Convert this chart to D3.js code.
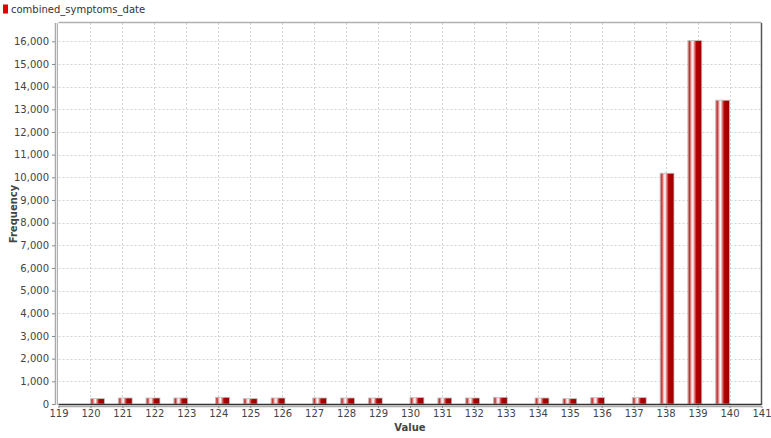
<!DOCTYPE html>
<html>
<head>
<meta charset="utf-8">
<script src="https://cdn.jsdelivr.net/npm/d3@7"></script>
<style>
  body { margin: 0; background: #fff; }
  text { font-family: "DejaVu Sans", sans-serif; }
</style>
</head>
<body>
<script>
// histogram data: integer value -> frequency
const values = [120, 121, 122, 123, 124, 125, 126, 127, 128, 129, 130,
                131, 132, 133, 134, 135, 136, 137, 138, 139, 140];
const counts = [235, 265, 265, 265, 295, 235, 265, 265, 265, 265, 280,
                265, 265, 295, 265, 235, 280, 280, 10180, 16030, 13400];
const binCount = 46;
const xTicks = d3.range(119, 142);
const yTicks = d3.range(0, 17000, 1000);
const seriesName = "combined_symptoms_date";

const width = 771, height = 438;
const plot = { left: 58.5, right: 761.5, top: 23, bottom: 405 };

const svg = d3.select("body")
    .append("svg")
    .attr("width", width)
    .attr("height", height);

// bar gradient (vertical stripes, like the java gradient painter)
const grad = svg.append("defs").append("linearGradient")
    .attr("id", "barGrad")
    .attr("x1", "0%").attr("x2", "100%").attr("y1", "0%").attr("y2", "0%");
[["0%", "#d48a8a"], ["12%", "#c43030"], ["26%", "#f2c4c4"], ["36%", "#ffffff"],
 ["48%", "#df7a7a"], ["62%", "#b40000"], ["100%", "#960000"]]
    .forEach(([o, c]) => grad.append("stop").attr("offset", o).attr("stop-color", c));

const x = d3.scaleLinear().domain([119, 141]).range([plot.left, plot.right]);
const y = d3.scaleLinear().domain([0, 16000]).range([404, 41.3]);

// grid
const grid = svg.append("g")
    .attr("stroke", "#d4d4d4")
    .attr("stroke-dasharray", "2,2")
    .attr("stroke-width", 1);
grid.selectAll(".vg")
    .data(xTicks.slice(1, -1))
    .enter()
    .append("line")
    .attr("x1", (d) => Math.round(x(d)) + 0.5)
    .attr("x2", (d) => Math.round(x(d)) + 0.5)
    .attr("y1", plot.top)
    .attr("y2", plot.bottom);
grid.selectAll(".hg")
    .data(yTicks.slice(1))
    .enter()
    .append("line")
    .attr("x1", plot.left)
    .attr("x2", plot.right)
    .attr("y1", (d) => Math.round(y(d)) + 0.5)
    .attr("y2", (d) => Math.round(y(d)) + 0.5);

// plot outline
svg.append("line")
    .attr("x1", plot.left).attr("x2", plot.right)
    .attr("y1", 22.5).attr("y2", 22.5)
    .attr("stroke", "#b0b0b0").attr("stroke-width", 1.5);
svg.append("line")
    .attr("x1", 761.5).attr("x2", 761.5)
    .attr("y1", plot.top).attr("y2", plot.bottom)
    .attr("stroke", "#555").attr("stroke-width", 1.5);

// bins
const binW = (d3.max(values) - d3.min(values)) / binCount;
const bars = values.map((v, i) => {
    const k = Math.min(binCount - 1, Math.floor((v - values[0]) / binW + 1e-9));
    const x0 = values[0] + k * binW;
    return { x0: x0, x1: x0 + binW, count: counts[i] };
});

svg.selectAll(".bar")
    .data(bars)
    .enter()
    .append("rect")
    .attr("class", "bar")
    .attr("x", (d) => x(d.x0))
    .attr("width", (d) => x(d.x1) - x(d.x0))
    .attr("y", (d) => y(d.count))
    .attr("height", (d) => y(0) - y(d.count))
    .attr("fill", "url(#barGrad)")
    .attr("stroke", "#bdbdbd")
    .attr("stroke-width", 0.8);

// zero baseline
svg.append("line")
    .attr("x1", plot.left).attr("x2", plot.right)
    .attr("y1", y(0) + 0.5).attr("y2", y(0) + 0.5)
    .attr("stroke", "#333").attr("stroke-width", 1.5);

// y axis
const yAxis = svg.append("g")
    .attr("transform", "translate(55,0)")
    .call(d3.axisLeft(y).tickValues(yTicks).tickFormat(d3.format(",")).tickSize(3).tickPadding(3));
yAxis.select(".domain").attr("stroke", "#aaa").attr("stroke-width", 1.5)
    .attr("d", `M0.5,${plot.top}V${plot.bottom}`);
yAxis.selectAll(".tick line").attr("stroke", "#888");
yAxis.selectAll(".tick text").attr("font-size", 10).attr("fill", "#444")
    .attr("font-family", "DejaVu Sans");
svg.append("line")
    .attr("x1", 57.5).attr("x2", 57.5)
    .attr("y1", plot.top).attr("y2", plot.bottom)
    .attr("stroke", "#b0b0b0").attr("stroke-width", 1);

// x axis
const xAxis = svg.append("g")
    .attr("transform", `translate(0,${plot.bottom + 1})`)
    .call(d3.axisBottom(x).tickValues(xTicks).tickFormat(d3.format("d")).tickSize(2).tickPadding(2));
xAxis.select(".domain").attr("stroke", "#aaa").attr("stroke-width", 1.5)
    .attr("d", `M${plot.left},0.5H${plot.right}`);
xAxis.selectAll(".tick line").attr("stroke", "#888");
xAxis.selectAll(".tick text").attr("font-size", 10).attr("fill", "#444")
    .attr("font-family", "DejaVu Sans");

// axis titles
svg.append("text")
    .attr("x", (plot.left + plot.right) / 2)
    .attr("y", 431)
    .attr("text-anchor", "middle")
    .attr("font-size", 10)
    .attr("font-weight", "bold")
    .attr("fill", "#444")
    .text("Value");
svg.append("text")
    .attr("transform", `translate(17,${(plot.top + plot.bottom) / 2}) rotate(-90)`)
    .attr("text-anchor", "middle")
    .attr("font-size", 10)
    .attr("font-weight", "bold")
    .attr("fill", "#444")
    .text("Frequency");

// legend
svg.append("rect")
    .attr("x", 3).attr("y", 4.5)
    .attr("width", 5).attr("height", 9)
    .attr("fill", "#e00000");
svg.append("text")
    .attr("x", 11).attr("y", 12.5)
    .attr("font-size", 10)
    .attr("fill", "#333")
    .text(seriesName);
</script>
</body>
</html>
